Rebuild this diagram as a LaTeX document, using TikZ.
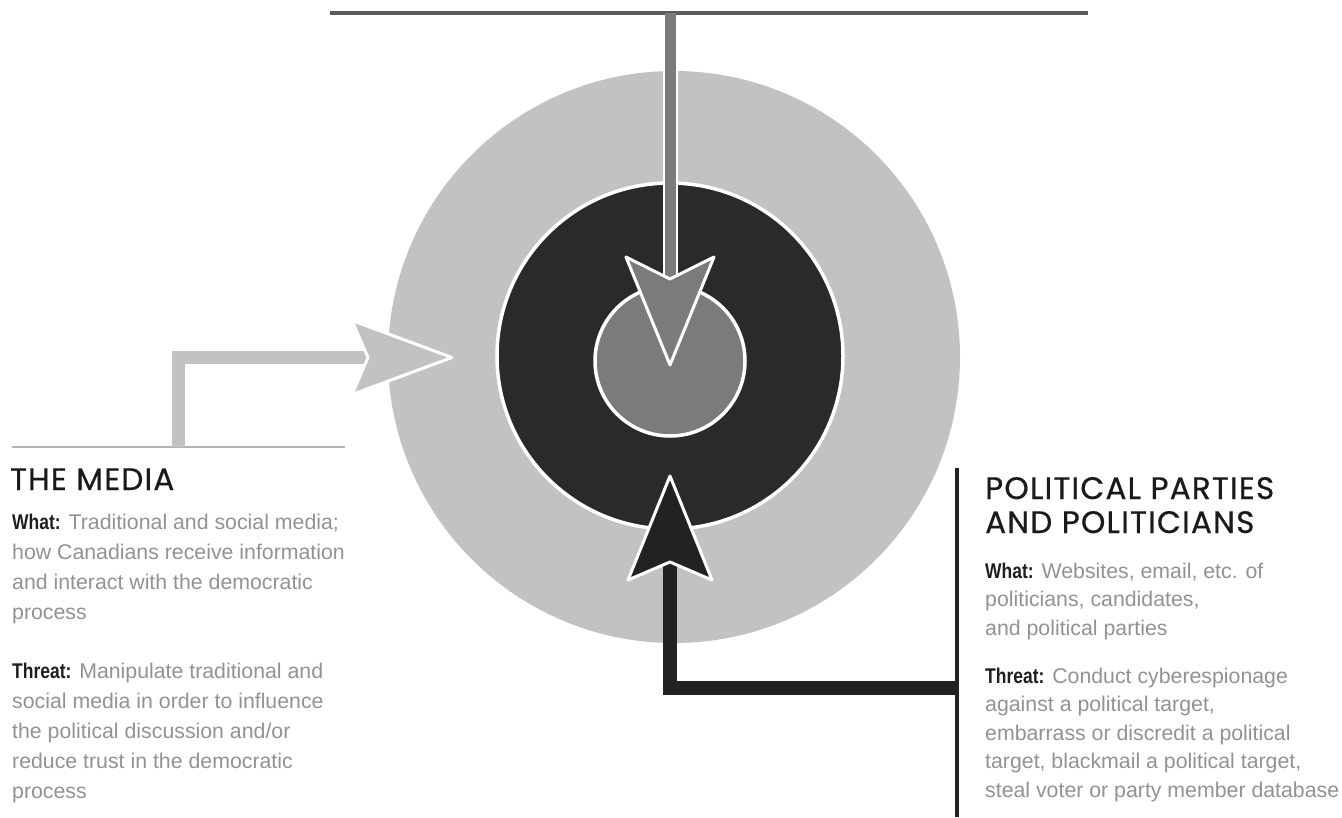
\documentclass[tikz,border=0pt]{standalone}
\usepackage{fontspec}
\setmainfont{Liberation Sans}
\newfontfamily\titlefont{Poppins}[LetterSpace=4, FakeBold=0.6]
\newfontfamily\lblfont{Liberation Sans}[FakeStretch=0.82]
\definecolor{lightring}{HTML}{C2C2C2}
\definecolor{darkring}{HTML}{2A2A2A}
\definecolor{midgray}{HTML}{7B7B7B}
\definecolor{toplinec}{HTML}{5A5A5A}
\definecolor{baselinec}{HTML}{B4B4B4}
\definecolor{darkarrow}{HTML}{222222}
\definecolor{bodygray}{HTML}{929292}
\definecolor{lblcolor}{HTML}{1E1E1E}
\definecolor{titlecolor}{HTML}{1A1A1A}
\newcommand{\lblbold}[1]{{\lblfont\bfseries\color{lblcolor}#1}}
\tikzset{
  ring/.style={circle, inner sep=0pt, line width=3.5pt, draw=white},
  body/.style={anchor=base west, inner sep=0pt, text=bodygray, font=\fontsize{21.3}{25}\selectfont},
  ttl/.style={anchor=base west, inner sep=0pt, text=titlecolor, font=\titlefont\fontsize{31}{34}\selectfont},
  head/.style={draw=white, line width=3pt, line join=round},
}
\begin{document}
\begin{tikzpicture}[x=1pt,y=-1pt]
\useasboundingbox (0,0) rectangle (1342,817);
% target
\node[circle, inner sep=0pt, fill=lightring, minimum size=572pt] (outer) at (674,357) {};
\node[ring, fill=darkring, minimum size=346pt] (middle) at (670,356) {};
\node[ring, fill=midgray, minimum size=150pt] (inner) at (670,361) {};

% top line and arrow
\coordinate (tl) at (330,13);
\coordinate (tr) at (1088,13);
\coordinate (ttop) at (670,13);
\coordinate (tnotch) at (670,279);
\coordinate (ttip) at (670,365);
\draw[toplinec, line width=4pt] (tl) -- (tr);
\draw[white, line width=15pt] (670,60) -- (tnotch);
\draw[midgray, line width=11pt] (ttop) -- (tnotch);
\filldraw[head, fill=midgray] (ttip) -- ++(-44,-108) -- (tnotch) -- ++(44,-22) -- cycle;

% left arrow (the media)
\coordinate (ll) at (12,447);
\coordinate (lr) at (345,447);
\coordinate (lbar) at (178.5,447);
\coordinate (lnotch) at (368,357.5);
\coordinate (ltip) at (452,357.5);
\draw[baselinec, line width=2.5pt] (ll) -- (lr);
\draw[lightring, line width=13.5pt] (lbar) |- (lnotch);
\filldraw[head, fill=lightring] (ltip) -- ++(-100,-37) -- (lnotch) -- ++(-16,37) -- cycle;

% bottom arrow (political parties)
\coordinate (rtop) at (957,468);
\coordinate (rbot) at (957,817);
\coordinate (rbar) at (957,688);
\coordinate (bnotch) at (670,562);
\coordinate (btip) at (670,476);
\draw[darkarrow, line width=4pt] (rtop) -- (rbot);
\draw[darkarrow, line width=14pt] (rbar) -| (bnotch);
\filldraw[head, fill=darkarrow] (btip) -- ++(-42,104) -- (bnotch) -- ++(42,18) -- cycle;

% left text
\node[ttl] (mediaT) at (10,490) {THE MEDIA};
\node[body] (m1) at (12,529) {\lblbold{What:} Traditional and social media;};
\node[body] (m2) at (12,559) {how Canadians receive information};
\node[body] (m3) at (12,589) {and interact with the democratic};
\node[body] (m4) at (12,619) {process};
\node[body] (m5) at (12,678) {\lblbold{Threat:} Manipulate traditional and};
\node[body] (m6) at (12,708) {social media in order to influence};
\node[body] (m7) at (12,738) {the political discussion and/or};
\node[body] (m8) at (12,768) {reduce trust in the democratic};
\node[body] (m9) at (12,798) {process};

% right text
\node[ttl] (partyT1) at (985,499) {POLITICAL PARTIES};
\node[ttl] (partyT2) at (985,533) {AND POLITICIANS};
\node[body] (p1) at (985,578) {\lblbold{What:} Websites, email, etc. of};
\node[body] (p2) at (985,606.6) {politicians, candidates,};
\node[body] (p3) at (985,635.2) {and political parties};
\node[body] (p4) at (985,683) {\lblbold{Threat:} Conduct cyberespionage};
\node[body] (p5) at (985,711.6) {against a political target,};
\node[body] (p6) at (985,740.2) {embarrass or discredit a political};
\node[body] (p7) at (985,768.8) {target, blackmail a political target,};
\node[body] (p8) at (985,797.4) {steal voter or party member database};
\end{tikzpicture}
\end{document}
